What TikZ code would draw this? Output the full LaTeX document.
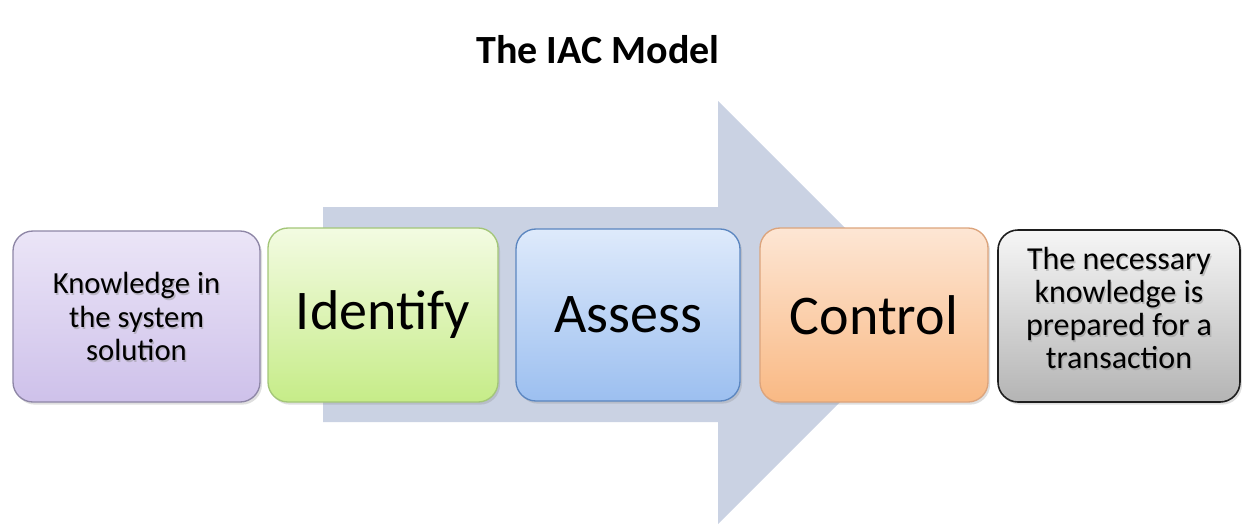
\documentclass[tikz,border=0pt]{standalone}
\usepackage{fontspec}
\setmainfont{Carlito}
\usetikzlibrary{shadows}
\definecolor{arrowfill}{HTML}{CAD2E3}
\definecolor{purpletop}{HTML}{EBE5F7}
\definecolor{purplebot}{HTML}{CEC1EA}
\definecolor{purpleline}{HTML}{8E86A6}
\definecolor{greentop}{HTML}{F3FBE2}
\definecolor{greenbot}{HTML}{C6EC88}
\definecolor{greenline}{HTML}{A3C678}
\definecolor{bluetop}{HTML}{DEEAFB}
\definecolor{bluebot}{HTML}{9CBFF0}
\definecolor{blueline}{HTML}{5B86C0}
\definecolor{orangetop}{HTML}{FDE6D4}
\definecolor{orangebot}{HTML}{F9B984}
\definecolor{orangeline}{HTML}{DCA47C}
\definecolor{graytop}{HTML}{F6F6F6}
\definecolor{graybot}{HTML}{B4B4B4}
\definecolor{grayline}{HTML}{1E1E1E}
\tikzset{
  x=0.75pt, y=-0.75pt,
  stagebox/.style={rectangle, rounded corners=15pt, line width=1pt,
    inner sep=0pt, align=center,
    drop shadow={shadow xshift=1.5pt, shadow yshift=-2pt, opacity=0.25}},
  bigword/.style={font=\fontsize{42}{48}\selectfont},
  smalltext/.style={font=\fontsize{23}{24.8}\selectfont},
  prepfont/.style={font=\fontsize{24}{24.8}\selectfont},
  glow/.style={text=black!45, opacity=0.45, align=center},
}
\begin{document}
\begin{tikzpicture}
\useasboundingbox (0,0) rectangle (1242,525);
% title
\node[font=\fontsize{30}{35}\selectfont\bfseries] (title) at (598,50) {The IAC Model};
% large background arrow
\fill[arrowfill] (323,207) -- (718,207) -- (718,101) -- (929.5,312.5)
  -- (718,524) -- (718,422) -- (323,422) -- cycle;
% stage boxes
\node[stagebox, draw=purpleline, top color=purpletop, bottom color=purplebot,
  minimum width=247*0.75pt, minimum height=171*0.75pt] (know) at (136.5,316.5) {};
\node[stagebox, draw=greenline, top color=greentop, bottom color=greenbot,
  minimum width=230*0.75pt, minimum height=174*0.75pt] (ident) at (383,315) {};
\node[stagebox, draw=blueline, top color=bluetop, bottom color=bluebot,
  minimum width=224*0.75pt, minimum height=172*0.75pt] (assess) at (628,315) {};
\node[stagebox, draw=orangeline, top color=orangetop, bottom color=orangebot,
  minimum width=228*0.75pt, minimum height=174*0.75pt] (ctrl) at (874,315) {};
\node[stagebox, draw=grayline, line width=1.2pt, top color=graytop, bottom color=graybot,
  minimum width=242*0.75pt, minimum height=172*0.75pt] (prep) at (1119,316) {};
% labels
\node[bigword] (identtxt) at (ident) {Identify};
\node[bigword] (assesstxt) at (assess) {Assess};
\node[bigword] (ctrltxt) at (ctrl) {Control};
\node[smalltext, glow] (knowglow) at ([xshift=1pt,yshift=-1.5pt]know.center) {Knowledge in\\the system\\solution};
\node[smalltext, align=center] (knowtxt) at (know) {Knowledge in\\the system\\solution};
\node[prepfont, glow] (prepglow) at ([xshift=1pt,yshift=4.5pt]prep.center) {The necessary\\knowledge is\\prepared for a\\transaction};
\node[prepfont, align=center] (preptxt) at ([yshift=6pt]prep.center) {The necessary\\knowledge is\\prepared for a\\transaction};
\end{tikzpicture}
\end{document}
